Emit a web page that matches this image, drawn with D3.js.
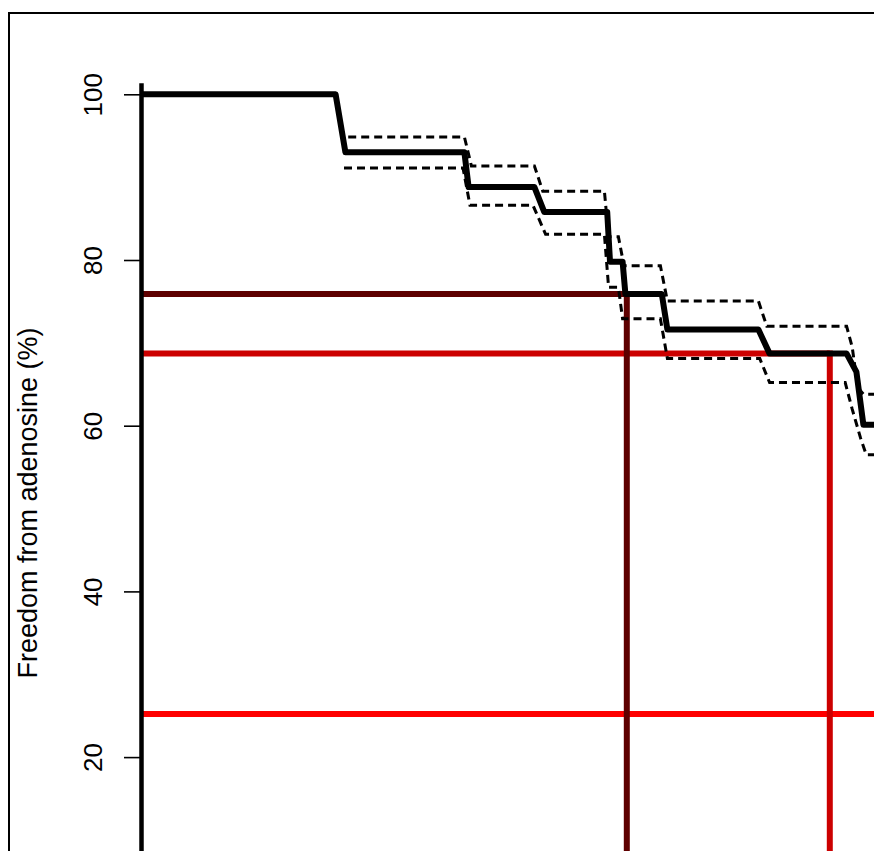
<!DOCTYPE html>
<html>
<head>
<meta charset="utf-8">
<script src="https://cdn.jsdelivr.net/npm/d3@7"></script>
<style>
    body{margin:0;background:#fff;}
    svg{display:block;}
    .tickLabel,.axisTitle{font-family:"Liberation Sans",Arial,sans-serif;fill:#000;}
</style>
</head>
<body>
<div id="chart"></div>
<script>
// km estimate, time (months) / freedom (%)
var kmTime=[0,13.9,14.6,23.1,23.4,28.1,28.8,33.3,33.5,34.4,34.6,37.2,37.6,44.1,44.9,50.4,51.1,51.6,53];
var kmSurv=[100,100,93.0,93.0,88.8,88.8,85.8,85.8,79.8,79.8,75.9,75.9,71.6,71.6,68.7,68.7,66.5,60.1,60.1];
// 95% ci upper / lower
var upTime=[14.8,23.1,23.6,28.1,28.7,33.1,33.4,34.1,34.5,37.1,37.6,44.1,44.7,50.4,50.8,51.2,51.6,53];
var upSurv=[94.85,94.85,91.35,91.35,88.3,88.3,82.8,82.8,79.3,79.3,75.05,75.05,72.0,72.0,69.5,64.6,63.8,63.8];
var loTime=[14.5,23.0,23.5,28.0,28.9,33.1,33.4,34.1,34.4,37.1,37.6,44.2,44.9,50.3,50.8,51.4,51.8,53];
var loSurv=[91.1,91.1,86.6,86.6,83.1,83.1,76.7,76.7,72.9,72.9,68.1,68.1,65.2,65.2,62.0,58.5,56.5,56.5];
// reference lines: level (%), time where it meets the curve (null = full width)
var refLevel=[25.2,68.7,75.9];
var refTime=[null,49.2,34.7];
var refColor=["#ff0000","#cc0000","#5e0000"];
var yTicks=[20,40,60,80,100];
var yTitle="Freedom from adenosine (%)";

var width=874,height=851;
var svg=d3.select("#chart").append("svg")
    .attr("width",width)
    .attr("height",height);

var x=d3.scaleLinear().domain([0,60]).range([141,981]);
var y=d3.scaleLinear().domain([0,101.4]).range([922.8,82.7]);

// outer frame (cut off at right and bottom)
svg.append("rect")
    .attr("x",9).attr("y",13)
    .attr("width",1000).attr("height",1000)
    .attr("fill","none")
    .attr("stroke","#000")
    .attr("stroke-width",2);

// reference lines first, curves drawn over them
var refs=refLevel.map(function (d,i) {
    return {v:d,t:refTime[i],c:refColor[i]}
});
refs.forEach(function (d) {
    var xEnd=d.t===null?x(60):x(d.t);
    svg.append("line")
        .attr("x1",x(0)).attr("x2",xEnd)
        .attr("y1",y(d.v)).attr("y2",y(d.v))
        .attr("stroke",d.c).attr("stroke-width",6);
    if(d.t!==null){
        svg.append("line")
            .attr("x1",xEnd).attr("x2",xEnd)
            .attr("y1",y(d.v)-3).attr("y2",y(0))
            .attr("stroke",d.c).attr("stroke-width",6);
    }
});

var line=d3.line()
    .x(function (d) {return x(d[0])})
    .y(function (d) {return y(d[1])});

function zipPts(ts,vs) {
    return ts.map(function (t,i) {return [t,vs[i]]})
}

svg.append("path")
    .datum(zipPts(upTime,upSurv))
    .attr("d",line)
    .attr("fill","none").attr("stroke","#000")
    .attr("stroke-width",3).attr("stroke-dasharray","8,5");
svg.append("path")
    .datum(zipPts(loTime,loSurv))
    .attr("d",line)
    .attr("fill","none").attr("stroke","#000")
    .attr("stroke-width",3).attr("stroke-dasharray","8,5");

svg.append("path")
    .datum(zipPts(kmTime,kmSurv))
    .attr("d",line)
    .attr("fill","none").attr("stroke","#000")
    .attr("stroke-width",6)
    .attr("stroke-linejoin","round");

// y axis
var yAxis=d3.axisLeft(y).tickValues(yTicks).tickSize(17).tickSizeOuter(0).tickFormat("");
var gAxis=svg.append("g")
    .attr("transform","translate("+x(0)+",0)")
    .call(yAxis);
gAxis.select(".domain").attr("stroke","#000").attr("stroke-width",4.5);
gAxis.selectAll(".tick line").attr("stroke","#000").attr("stroke-width",1.6);

gAxis.selectAll(".tick").append("text")
    .attr("class","tickLabel")
    .attr("transform","translate(-39,0) rotate(-90)")
    .attr("text-anchor","middle")
    .style("font-size","26px")
    .text(function (d) {return d});

svg.append("text")
    .attr("class","axisTitle")
    .attr("transform","translate(37,503) rotate(-90)")
    .attr("text-anchor","middle")
    .style("font-size","27px")
    .text(yTitle);
</script>
</body>
</html>
